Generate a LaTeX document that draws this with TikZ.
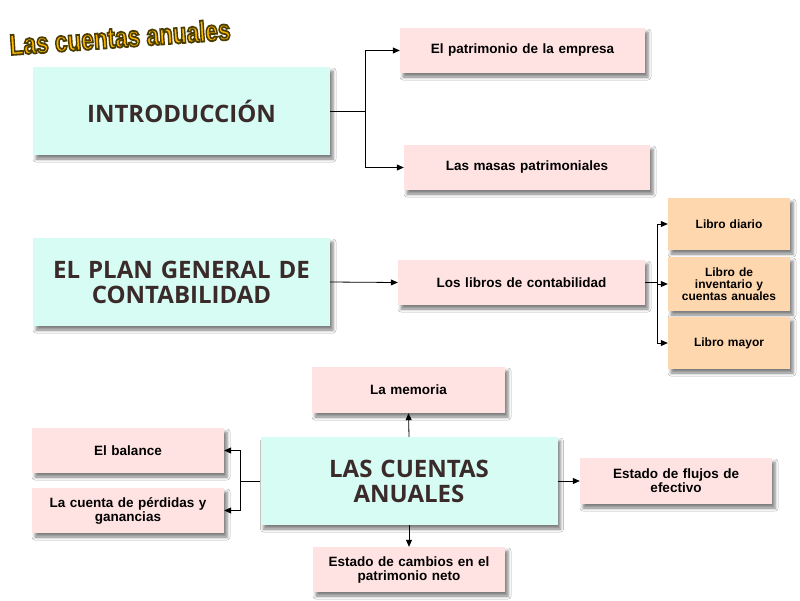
\documentclass[tikz,border=0pt]{standalone}
\usepackage{fontspec}
\setmainfont{Liberation Sans}
\newfontfamily\bigfont{Open Sans}
\usetikzlibrary{arrows.meta, positioning, shadows.blur}
\definecolor{cyanfond}{HTML}{D6FCF4}
\definecolor{rosefond}{HTML}{FFE2E2}
\definecolor{pechefond}{HTML}{FFD7AF}
\definecolor{brunt}{HTML}{3B2A2A}
\definecolor{ortitre}{HTML}{FFB800}
% contour du titre (fill and stroke)
\newcommand{\titretrace}[1]{\special{pdf:literal 2 Tr 1.8 w 0.29 0.24 0 RG}#1\special{pdf:literal 0 Tr}}
\tikzset{
    %Define standard arrow tip
    >={Triangle[length=7pt,width=6pt]},
    %Define style for boxes
    ombre/.style={
           blur shadow={shadow xshift=3pt, shadow yshift=-4pt,
                        shadow blur radius=3pt, shadow opacity=50}},
    grand/.style={
           rectangle, ombre,
           fill=cyanfond,
           minimum width=297pt,
           minimum height=88pt,
           text width=285pt,
           align=center,
           text=brunt,
           font=\bigfont\bfseries\fontsize{24}{25}\selectfont},
    petit/.style={
           rectangle, ombre,
           fill=rosefond,
           minimum width=#1,
           minimum height=45pt,
           text width=#1-10pt,
           align=center,
           font=\bfseries\fontsize{13.5}{14}\selectfont},
    petit/.default=192pt,
    livre/.style={
           rectangle, ombre,
           fill=pechefond,
           minimum width=122pt,
           minimum height=52pt,
           text width=112pt,
           align=center,
           font=\bfseries\fontsize{12}{12}\selectfont},
    % Define arrow style
    pil/.style={
           ->,
           thick,}
}
\begin{document}
\begin{tikzpicture}[x=1pt, y=-1pt]
	\useasboundingbox[fill=white] (0,0) rectangle (800,600);
	%
	% titre
	%
	\node[rotate=4, text=ortitre, font=\bfseries\fontsize{29}{29}\selectfont,
	      xscale=0.78] (titre) at (120,37) {\titretrace{Las cuentas anuales}};
	%
	% noeuds
	%
	\node[grand] (intro) at (181.5,111) {INTRODUCCIÓN};
	\node[petit=245pt] (patri) at (522.5,50.5) {El patrimonio de la empresa};
	\node[petit=246pt] (masas) at (527,167.5) {Las masas patrimoniales};
	%
	\node[grand] (plan) at (181.5,282) {EL PLAN GENERAL DE\\ CONTABILIDAD};
	\node[petit=247pt] (libros) at (521.5,282.5) {Los libros de contabilidad};
	\node[livre] (diario) at (729,224) {Libro diario};
	\node[livre, minimum height=54pt] (inventario) at (729,284) {Libro de\\ inventario y\\ cuentas anuales};
	\node[livre] (mayor) at (729,343) {Libro mayor};
	%
	\node[grand] (cuentas) at (409,481) {LAS CUENTAS\\ ANUALES};
	\node[petit=193pt, minimum height=46pt] (memoria) at (408.5,390) {La memoria};
	\node[petit] (balance) at (128,450.5) {El balance};
	\node[petit] (perdidas) at (128,510.5) {La cuenta de pérdidas y\\ ganancias};
	\node[petit, minimum height=46pt] (flujos) at (676,481) {Estado de flujos de\\ efectivo};
	\node[petit] (cambios) at (409,569.5) {Estado de cambios en el\\ patrimonio neto};
	%
	% Liens
	%
	\draw[pil] (intro.east) -- ++(35,0) |- (patri.west);
	\draw[pil] (intro.east) -- ++(35,0) |- (masas.west);
	\draw[pil] (plan.east) -- (libros.west);
	\draw[pil] (libros.east) -- ++(12,0) |- (diario.west);
	\draw[pil] (libros.east) -- ++(12,0) |- (inventario.west);
	\draw[pil] (libros.east) -- ++(12,0) |- (mayor.west);
	\draw[pil] (cuentas.north) -- (memoria.south);
	\draw[pil] (cuentas.south) -- (cambios.north);
	\draw[pil] (cuentas.east) -- (flujos.west);
	\draw[pil] (cuentas.west) -- ++(-20,0) |- (balance.east);
	\draw[pil] (cuentas.west) -- ++(-20,0) |- (perdidas.east);
\end{tikzpicture}
\end{document}
